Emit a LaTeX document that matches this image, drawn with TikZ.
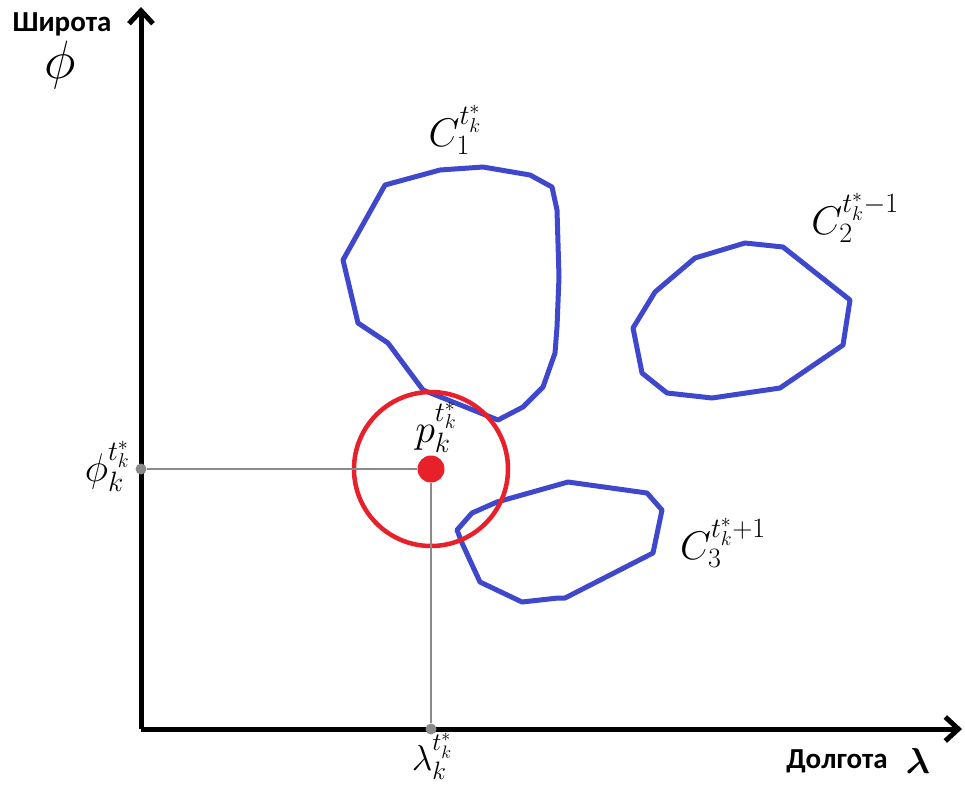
\documentclass[tikz,border=0pt]{standalone}
\usepackage{fix-cm}
\usepackage{amsmath}
\usepackage{fontspec}
\newfontfamily\labfont{Carlito}
\usetikzlibrary{arrows.meta}
\definecolor{blobblue}{HTML}{3F48CC}
\definecolor{ptred}{HTML}{E8202A}
\definecolor{gline}{HTML}{8A8A8A}
\tikzset{
  axis/.style={line width=5pt, -{Straight Barb[length=13pt,width=24pt]}},
  blob/.style={draw=blobblue, line width=5pt, line join=round},
  guide/.style={draw=gline, line width=2.4pt},
  gdot/.style={circle, fill=gline, inner sep=0pt, minimum size=11pt},
  mlab/.style={inner sep=0pt, font=\fontsize{40}{44}\selectfont},
  axlab/.style={inner sep=0pt, font=\labfont\bfseries\fontsize{29}{32}\selectfont}
}
\begin{document}
\begin{tikzpicture}[x=1pt,y=-1pt]
\useasboundingbox (0,0) rectangle (965,785);
% axes
\coordinate (O) at (141,729);
\coordinate (ytip) at (141,7);
\coordinate (xtip) at (962,729);
\draw[axis] (O) -- (ytip);
\draw[axis] (O) -- (xtip);
% blobs
\draw[blob] (385,185) -- (440,170) -- (483,167) -- (530,175) -- (552,187) -- (557,210) -- (559,277) -- (557,327) -- (555,353) -- (543,387) -- (523,407) -- (498,420) -- (423,390) -- (388,343) -- (358,323) -- (343,260) -- cycle;
\draw[blob] (633,328) -- (655,292) -- (695,258) -- (745,243) -- (783,247) -- (850,300) -- (843,345) -- (780,388) -- (712,398) -- (667,393) -- (642,373) -- cycle;
\draw[blob] (457,530) -- (472,513) -- (497,502) -- (568,482) -- (647,493) -- (662,510) -- (653,553) -- (565,598) -- (558,598) -- (522,602) -- (480,582) -- (462,543) -- cycle;
% point and circle
\node[circle, draw=ptred, line width=4.5pt, minimum size=154pt, inner sep=0pt] (ring) at (431,469) {};
\node[circle, fill=ptred, inner sep=0pt, minimum size=27pt] (p) at (431,469) {};
\node[gdot] (py) at (141,469) {};
\node[gdot] (px) at (431,729) {};
\draw[guide] (py) -- (p);
\draw[guide] (p) -- (px);
% labels
\node[axlab] (lat) at (62,24) {Широта};
\node[inner sep=0pt, font=\fontsize{54}{58}\selectfont] (phiax) at (60,65) {$\phi$};
\node[axlab] (lon) at (837,761) {Долгота};
\node[inner sep=0pt, font=\fontsize{36}{40}\selectfont] (lamax) at (918,761) {$\boldsymbol{\lambda}$};
\node[mlab, anchor=east] (phik) at (130,466) {$\phi_k^{t_k^*}$};
\node[mlab, anchor=north, font=\fontsize{36}{40}\selectfont] (lamk) at (432,733) {$\lambda_k^{t_k^*}$};
\node[mlab] (pk) at (436,427) {$p_k^{t_k^*}$};
\node[mlab] (c1) at (455,130) {$C_1^{t_k^*}$};
\node[mlab] (c2) at (855,218) {$C_2^{t_k^*-1}$};
\node[mlab] (c3) at (723,543) {$C_3^{t_k^*+1}$};
\end{tikzpicture}
\end{document}
